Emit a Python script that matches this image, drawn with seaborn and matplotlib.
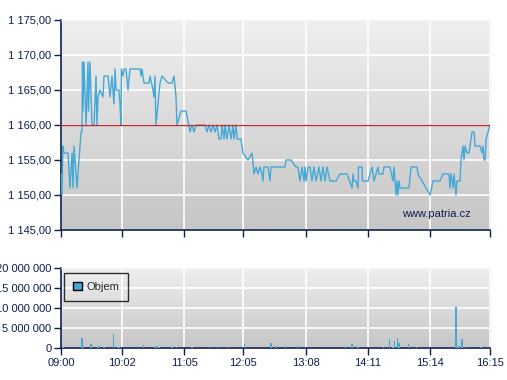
import numpy as np
import pandas as pd
import matplotlib
matplotlib.use("Agg")
import matplotlib.pyplot as plt
import seaborn as sns
from matplotlib.ticker import FuncFormatter
from matplotlib.patches import Patch

# minutes after 09:00 and price
price_min = [0, 1.0, 2.0, 3.0, 7.1, 9.1, 11.2, 12.2, 13.2, 16.2, 20.3, 21.3, 21.8, 22.3, 23.3,
             25.4, 27.4, 27.9, 29.4, 31.4, 33.5, 35.5, 36.5, 37.5, 39.5, 42.6, 43.6, 47.7,
             49.7, 51.7, 53.7, 54.8, 55.8, 58.8, 59.8, 60.8, 61.3, 62.9, 63.9, 65.9, 67.9,
             70.0, 80.1, 81.1, 82.1, 84.2, 89.2, 90.2, 93.3, 94.3, 95.3, 96.3, 98.4, 100.4,
             102.4, 108.5, 112.6, 114.6, 116.6, 117.6, 121.7, 126.8, 130.8, 132.8, 134.9,
             136.9, 146.0, 148.0, 150.1, 152.1, 154.1, 156.2, 158.2, 160.2, 162.2, 163.3,
             165.3, 166.3, 168.3, 170.4, 172.4, 174.4, 175.4, 177.5, 178.5, 182.5, 184.5,
             189.6, 193.7, 195.7, 197.7, 199.8, 201.8, 203.8, 204.8, 205.8, 209.9, 211.9,
             212.9, 227.1, 228.2, 233.2, 238.3, 240.3, 242.3, 244.4, 246.4, 247.4, 248.4,
             250.5, 252.5, 254.5, 256.5, 258.6, 261.6, 263.6, 265.7, 267.7, 269.7, 272.8,
             278.9, 282.9, 285.9, 290.0, 295.1, 296.1, 297.1, 299.1, 301.2, 301.7, 305.2,
             305.7, 311.3, 315.4, 317.4, 319.4, 321.4, 322.5, 326.5, 327.5, 333.6, 336.6,
             337.7, 339.7, 340.7, 341.7, 342.7, 343.7, 352.9, 354.9, 355.9, 361.0, 362.0,
             374.2, 377.2, 384.3, 387.3, 393.4, 394.4, 395.5, 397.5, 398.5, 400.5, 401.5,
             404.6, 405.6, 407.6, 408.6, 409.7, 411.7, 413.7, 416.8, 418.8, 419.8, 424.9,
             426.9, 427.9, 429.0, 430.0, 431.0, 435]
price = [1153, 1150, 1157, 1156, 1156, 1151, 1156, 1151, 1157, 1151, 1159, 1159, 1169, 1162, 1169,
         1160, 1169, 1162, 1169, 1160, 1160, 1167, 1160, 1164, 1165, 1164, 1167, 1167,
         1164, 1167, 1163, 1168, 1165, 1165, 1163, 1160, 1168, 1167, 1168, 1168, 1165,
         1168, 1168, 1167, 1168, 1166, 1166, 1167, 1165, 1164, 1167, 1160, 1163, 1166,
         1167, 1166, 1166, 1167, 1164, 1160, 1162, 1162, 1159, 1160, 1159,
         1160, 1160, 1159, 1160, 1159, 1160, 1159, 1160, 1158, 1158, 1160,
         1158, 1160, 1158, 1160, 1158, 1160, 1158, 1160, 1158, 1158, 1156,
         1155, 1156, 1153, 1154, 1153, 1154, 1153, 1152, 1154, 1154, 1152,
         1154, 1154, 1155, 1155, 1154, 1154, 1152, 1154, 1152, 1154, 1152,
         1154, 1154, 1152, 1154, 1152, 1154, 1152, 1154, 1152, 1154, 1152,
         1152, 1153, 1153, 1153, 1151, 1153, 1152, 1152, 1151, 1154, 1154,
         1152, 1152, 1154, 1152, 1153, 1154, 1153, 1153, 1154, 1154, 1152,
         1154, 1150, 1152, 1150, 1152, 1151, 1151, 1154, 1154, 1154, 1153,
         1150, 1152, 1152, 1153, 1153, 1151, 1153, 1151, 1153, 1150, 1152,
         1152, 1155, 1157, 1155, 1157, 1156, 1156, 1159, 1159, 1157, 1157,
         1156, 1157, 1155, 1155, 1158, 1160]

vol_min = [1.0, 20.3, 21.3, 22.3, 31.4, 36.5, 38.5, 43.6, 53.7, 57.8, 59.8, 83.1, 94.3, 96.3,
           99.4, 112.6, 117.6, 133.8, 150.1, 159.2, 169.3, 185.6, 212.9, 218.0, 227.1, 240.3,
           288.0, 295.1, 301.2, 326.5, 332.6, 336.6, 338.7, 340.7, 341.7, 342.7, 352.9,
           361.0, 400.5, 401.5, 403.6, 406.6, 410.7, 426.9]
volume = [0.3, 0.75, 1.8, 0.4, 1.0, 0.3, 0.6, 0.3, 3.5, 0.3, 0.3, 0.8, 0.3, 0.6,
          0.3, 0.2, 0.2, 0.2, 0.2, 0.2, 0.2, 1.0, 1.3, 0.5, 0.5, 0.5,
          0.2, 1.0, 0.2, 0.2, 2.2, 0.2, 1.8, 0.3, 2.3, 1.3, 1.0,
          0.2, 10.3, 0.3, 0.6, 2.2, 0.3, 0.2]  # millions

tick_min = [0, 62, 125, 185, 248, 311, 374, 435]
tick_labels = ["09:00", "10:02", "11:05", "12:05", "13:08", "14:11", "15:14", "16:15"]
ref_price = 1160

navy = "#0d1f4f"
blue = "#45a8d6"

sns.set_style("white")
plt.rcParams["font.family"] = ["Liberation Sans", "DejaVu Sans"]

fig = plt.figure(figsize=(5.07, 3.80), dpi=100)
ax1 = fig.add_axes([61 / 507, 1 - 230 / 380, 429 / 507, 210 / 380])
ax2 = fig.add_axes([61 / 507, 1 - 348 / 380, 429 / 507, 80 / 380])

grad = np.linspace(0, 1, 256).reshape(-1, 1)
cmap = matplotlib.colors.LinearSegmentedColormap.from_list("g", ["#efefef", "#c6c6c6"])
for ax in (ax1, ax2):
    ax.imshow(grad, extent=[0, 1, 0, 1], transform=ax.transAxes, aspect="auto",
              cmap=cmap, zorder=0)
    ax.set_xlim(0, 435)
    ax.set_xticks(tick_min)
    ax.grid(True, color="white", linewidth=1.2, zorder=1)
    ax.set_axisbelow(True)
    for s in ("top", "right"):
        ax.spines[s].set_color("#f4f4f4")
    for s in ("left", "bottom"):
        ax.spines[s].set_color(navy)
        ax.spines[s].set_linewidth(1.2)
    ax.tick_params(direction="out", length=5, color=navy, labelcolor=navy, labelsize=8,
                   left=True, bottom=True, width=1, pad=2)

df = pd.DataFrame({"min": price_min, "price": price})
sns.lineplot(data=df, x="min", y="price", ax=ax1, color=blue, linewidth=1,
             estimator=None, sort=False, zorder=3)
ax1.axhline(ref_price, color="#b83030", linewidth=1, zorder=4)
ax1.set_ylim(1145, 1175)
ax1.set_yticks(range(1145, 1176, 5))
ax1.yaxis.set_major_formatter(FuncFormatter(
    lambda v, p: f"{v:,.2f}".replace(",", " ").replace(".", ",")))
ax1.set_xticklabels([])
ax1.set_xlabel("")
ax1.set_ylabel("")
ax1.text(0.955, 0.075, "www.patria.cz", transform=ax1.transAxes, ha="right", va="center",
         color=navy, fontsize=8, zorder=5)

dv = pd.DataFrame({"min": vol_min, "vol": np.array(volume) * 1e6})
sns.histplot(data=dv, x="min", weights="vol", binwidth=1.6, ax=ax2, color=blue,
             alpha=1, linewidth=0, zorder=3)
ax2.set_ylim(0, 20e6)
ax2.set_yticks([0, 5e6, 10e6, 15e6, 20e6])
ax2.yaxis.set_major_formatter(FuncFormatter(lambda v, p: f"{v:,.0f}".replace(",", " ")))
ax2.set_xticklabels(tick_labels)
ax2.set_xlim(0, 435)
ax2.set_xlabel("")
ax2.set_ylabel("")
leg = ax2.legend(handles=[Patch(facecolor=blue, edgecolor="black", linewidth=1, label="Objem")],
                 loc="upper left", bbox_to_anchor=(0.008, 0.94), frameon=True,
                 fancybox=False, edgecolor="black", facecolor="none", fontsize=8,
                 handlelength=0.8, handleheight=0.8, handletextpad=0.4,
                 borderpad=0.8, borderaxespad=0)
leg.get_frame().set_linewidth(1)

fig.savefig("out.png", dpi=100)
